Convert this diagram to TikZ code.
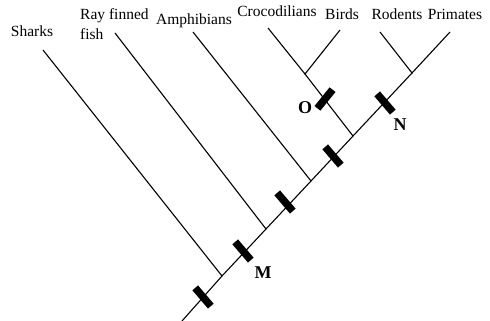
\documentclass[tikz,border=0pt]{standalone}
\usepackage{fontspec}
\setmainfont{Liberation Serif}
\begin{document}
\begin{tikzpicture}[x=1pt,y=-1pt,
  branch/.style={line width=1.1pt},
  lbl/.style={font=\fontsize{15.5pt}{20.5pt}\selectfont, inner sep=0pt, anchor=base},
  mlbl/.style={font=\fontsize{18pt}{20pt}\selectfont\bfseries, inner sep=0pt},
  bar/.style={fill=black, draw=none, inner sep=0pt, minimum width=24pt, minimum height=7.5pt}]
\useasboundingbox (0,0) rectangle (490,321);
% junctions and ends
\coordinate (root) at (182,321);
\coordinate (j1) at (222,276);
\coordinate (j2) at (266,229);
\coordinate (j3) at (311,181);
\coordinate (j4) at (353,136);
\coordinate (j5) at (412,73);
\coordinate (j6) at (305,74);
% tips
\coordinate (tSharks) at (43,50);
\coordinate (tRay) at (115,33);
\coordinate (tAmph) at (193,32);
\coordinate (tCroc) at (268,28);
\coordinate (tBirds) at (340,30);
\coordinate (tRod) at (380,32);
\coordinate (tPrim) at (450,32);
% labels
\node[lbl] (Sharks) at (32,37) {Sharks};
\node[lbl, anchor=base west, align=left] (Ray) at (80,40) {Ray finned\\fish};
\node[lbl] (Amph) at (194,25) {Amphibians};
\node[lbl] (Croc) at (277,17) {Crocodilians};
\node[lbl] (Birds) at (342,20) {Birds};
\node[lbl] (Rod) at (397,20) {Rodents};
\node[lbl] (Prim) at (455,20) {Primates};
% branches
\draw[branch] (root) -- (j1) -- (j2) -- (j3) -- (j4) -- (j5);
\draw[branch] (tSharks) -- (j1);
\draw[branch] (tRay) -- (j2);
\draw[branch] (tAmph) -- (j3);
\draw[branch] (j4) -- (j6);
\draw[branch] (tCroc) -- (j6) -- (tBirds);
\draw[branch] (tRod) -- (j5) -- (tPrim);
% bars
\node[bar, rotate=-49.5] (b1) at (203,297) {};
\node[bar, rotate=-49.5] (b2) at (243,251) {};
\node[bar, rotate=-49.5] (b3) at (285,202) {};
\node[bar, rotate=-49.5] (b4) at (333,156) {};
\node[bar, rotate=-49.5] (b5) at (385,103) {};
\node[bar, rotate=51] (b6) at (325,99) {};
% letters
\node[mlbl] (M) at (263,273) {M};
\node[mlbl] (O) at (305,108) {O};
\node[mlbl] (N) at (400,125) {N};
\end{tikzpicture}
\end{document}
